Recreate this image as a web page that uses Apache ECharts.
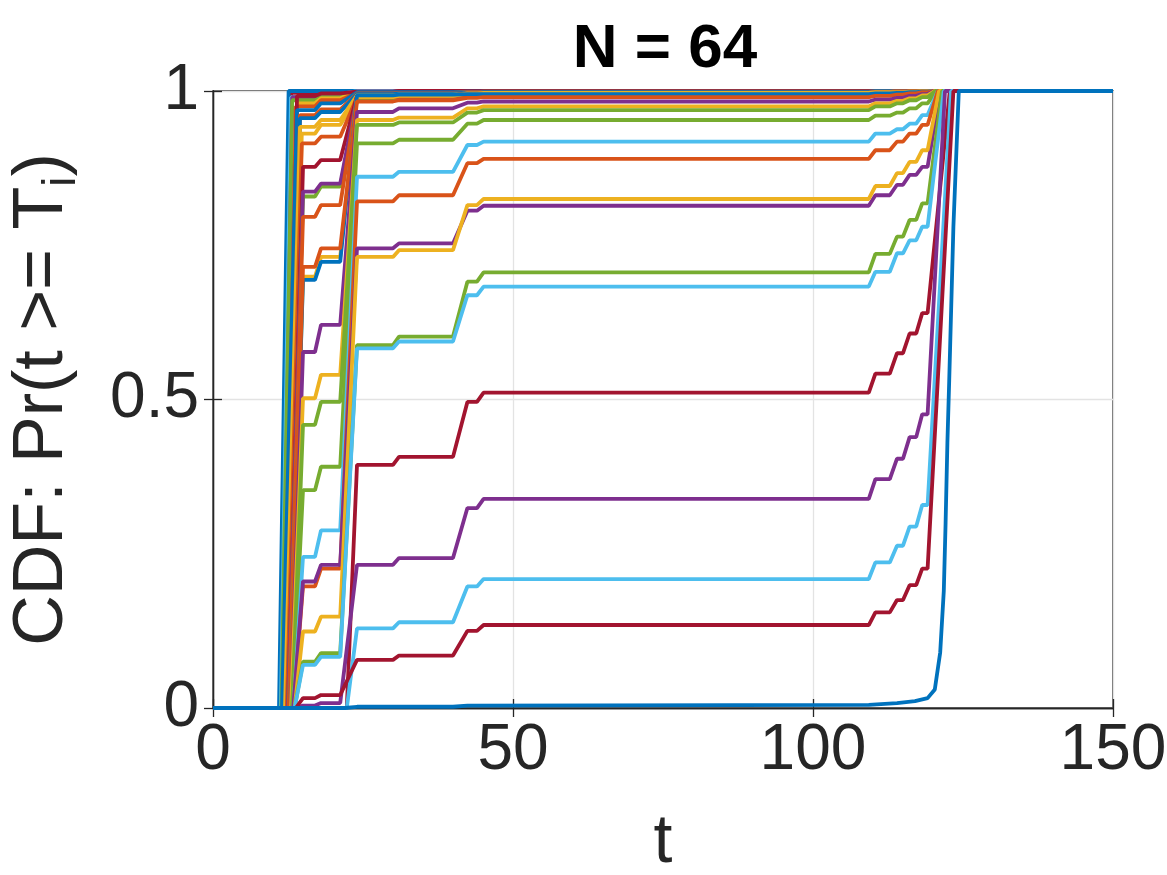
<!DOCTYPE html>
<html>
<head>
<meta charset="utf-8">
<title>N = 64</title>
<script src="https://cdn.jsdelivr.net/npm/echarts@6/dist/echarts.min.js"></script>
<style>
  html, body { margin: 0; padding: 0; background: #fff; }
  #chart { width: 1167px; height: 875px; }
</style>
</head>
<body>
<div id="chart"></div>
<script>
// matlab default colour order
var palette = {B: '#0072BD', O: '#D95319', Y: '#EDB120', P: '#7E2F8E', G: '#77AC30', L: '#4DBEEE', R: '#A2142F'};

var xTicks = [0, 50, 100, 150];
var yTicks = [0, 0.5, 1];

// every curve holds a level between these times (first start is per curve)
var plateauTimes = [[15, 17], [18, 21.2], [24, 30], [31, 40], [42.4, 44], [45.1, 109.3],
                    [110.4, 112.8], [114, 115], [116.1, 117.2], [118.2, 119.1]];

// per curve: colour, t where it leaves 0, t where first level is reached, t where it hits 1
var curveColor = ['R','B','L','P','G','Y','O','R','B','O','B','Y','Y','O','R','G','P','O','Y','B',
                  'O','P','Y','G','G','L','O','P','Y','G','L','R','P','L','R'];
var curveStart = [11.5,11,11.3,11.6,11.4,12,12,12.3,11.5,12,11.8,12,12.2,12.3,12.5,12.5,12.5,12.6,12.8,12.8,
                  12.8,13,13,13.2,13.2,13.4,13.4,13.4,13.6,13.6,13.6,22.3,13.8,22.3,13.8];
var curveRise = [13,12.6,13,13.2,13.2,14,13.8,14,14,14.5,14.5,14.5,14.8,14.8,15,15,15,15,15,15,
                 15,15,15,15,15,15,15,15,15,15,15,24,15,24,15];
var curveEnd = [120,120,120,120,120,120,120,120,120,120,120.2,120,120,120,120,120,120,120,120,120.5,
                120,120.2,120.3,120.4,120.5,120.8,120.8,121.2,121,121.5,121.8,122.8,122,123,123.4];
// levels: a, b, c, d, e, f, then the four late stairs
var curveLevels = [
  [0.997, 1, 1, 1, 1, 1, 1, 1, 1, 1],
  [1, 1, 1, 1, 1, 1, 1, 1, 1, 1],
  [0.99, 0.995, 1, 1, 1, 1, 1, 1, 1, 1],
  [0.99, 0.994, 0.999, 1, 1, 1, 1, 1, 1, 1],
  [0.985, 0.99, 0.998, 0.999, 1, 1, 1, 1, 1, 1],
  [0.98, 0.988, 0.998, 0.999, 1, 1, 1, 1, 1, 1],
  [0.975, 0.985, 0.997, 0.998, 0.999, 1, 1, 1, 1, 1],
  [0.992, 0.996, 0.999, 1, 1, 1, 1, 1, 1, 1],
  [0.969, 0.98, 0.998, 0.998, 0.999, 0.999, 1, 1, 1, 1],
  [0.961, 0.97, 0.996, 0.997, 0.998, 0.999, 0.999, 1, 1, 1],
  [0.956, 0.966, 0.995, 0.996, 0.997, 0.998, 0.998, 0.999, 0.999, 1],
  [0.942, 0.953, 0.993, 0.994, 0.996, 0.997, 0.998, 0.998, 0.999, 1],
  [0.931, 0.945, 0.99, 0.991, 0.994, 0.995, 0.996, 0.997, 0.998, 0.999],
  [0.915, 0.926, 0.99, 0.991, 0.993, 0.994, 0.995, 0.996, 0.997, 0.998],
  [0.877, 0.888, 0.992, 0.993, 0.996, 0.997, 0.998, 0.998, 0.999, 0.999],
  [0.829, 0.845, 0.985, 0.987, 0.99, 0.991, 0.993, 0.995, 0.996, 0.998],
  [0.837, 0.85, 0.99, 0.991, 0.993, 0.994, 0.995, 0.996, 0.997, 0.998],
  [0.796, 0.815, 0.99, 0.991, 0.994, 0.995, 0.996, 0.997, 0.998, 0.999],
  [0.699, 0.731, 0.99, 0.992, 0.996, 0.997, 0.998, 0.998, 0.999, 0.999],
  [0.694, 0.723, 0.993, 0.994, 0.995, 0.995, 0.996, 0.997, 0.998, 0.999],
  [0.715, 0.745, 0.983, 0.985, 0.989, 0.99, 0.992, 0.994, 0.996, 0.998],
  [0.577, 0.621, 0.966, 0.972, 0.981, 0.983, 0.986, 0.989, 0.992, 0.995],
  [0.502, 0.54, 0.953, 0.957, 0.972, 0.975, 0.98, 0.984, 0.988, 0.993],
  [0.459, 0.496, 0.945, 0.949, 0.965, 0.969, 0.975, 0.98, 0.985, 0.99],
  [0.353, 0.391, 0.915, 0.921, 0.947, 0.953, 0.96, 0.965, 0.972, 0.98],
  [0.245, 0.288, 0.861, 0.869, 0.9125, 0.918, 0.931, 0.938, 0.947, 0.961],
  [0.197, 0.226, 0.821, 0.831, 0.883, 0.89, 0.904, 0.918, 0.931, 0.945],
  [0.205, 0.232, 0.745, 0.753, 0.806, 0.814, 0.831, 0.848, 0.864, 0.877],
  [0.124, 0.148, 0.731, 0.742, 0.815, 0.825, 0.846, 0.867, 0.885, 0.904],
  [0.075, 0.089, 0.588, 0.602, 0.691, 0.706, 0.736, 0.764, 0.791, 0.818],
  [0.07, 0.083, 0.583, 0.594, 0.669, 0.683, 0.707, 0.737, 0.758, 0.78],
  [0, 0, 0.394, 0.407, 0.496, 0.511, 0.542, 0.575, 0.607, 0.64],
  [0.004, 0.008, 0.232, 0.243, 0.324, 0.339, 0.371, 0.404, 0.439, 0.476],
  [0, 0, 0.129, 0.139, 0.197, 0.209, 0.236, 0.263, 0.294, 0.329],
  [0.016, 0.021, 0.078, 0.085, 0.125, 0.1345, 0.155, 0.175, 0.199, 0.226]
];

// the last (blue) curve sits near 0 and is read point by point
var lastT = [0, 22, 24, 40, 42.4, 109.3, 114, 117, 119.1, 120.3, 121.2, 121.8, 122.1, 122.4, 122.7, 123.4, 124.3, 150];
var lastV = [0, 0, 0.002, 0.002, 0.004, 0.005, 0.008, 0.011, 0.016, 0.03, 0.09, 0.19, 0.3, 0.43, 0.53, 0.78, 1, 1];

var FONT = 'Liberation Sans, Helvetica, Arial, sans-serif';
var INK = '#262626';

function buildCurve(i) {
  var lv = curveLevels[i];
  var pts = [[0, 0], [curveStart[i], 0]];
  plateauTimes.forEach(function (span, k) {
    if (k < 2 && lv[0] === 0 && lv[1] === 0) return; // late curves skip the early plateaus
    var t0 = k === 0 ? curveRise[i] : span[0];
    pts.push([t0, lv[k]]);
    pts.push([span[1], lv[k]]);
  });
  pts.push([curveEnd[i], 1]);
  pts.push([150, 1]);
  return pts;
}

var series = [];
curveLevels.forEach(function (lv, i) {
  series.push({
    type: 'line',
    data: buildCurve(i),
    showSymbol: false,
    lineStyle: {width: 3.8, color: palette[curveColor[i]]},
    itemStyle: {color: palette[curveColor[i]]}
  });
});
series.push({
  type: 'line',
  data: lastT.map(function (t, k) { return [t, lastV[k]]; }),
  showSymbol: false,
  lineStyle: {width: 3.8, color: palette.B},
  itemStyle: {color: palette.B}
});

var chart = echarts.init(document.getElementById('chart'));
chart.setOption({
  animation: false,
  backgroundColor: '#fff',
  title: {
    text: 'N = 64',
    left: 660,
    top: 14,
    textAlign: 'center',
    textStyle: {fontFamily: FONT, fontSize: 62, fontWeight: 'bold', color: '#000'}
  },
  grid: {left: 213, right: 54, top: 91, bottom: 167, containLabel: false, outerBoundsMode: 'none',
         show: true, borderColor: INK, borderWidth: 1.3},
  xAxis: [{
    type: 'value', min: 0, max: 150, interval: 50, position: 'bottom',
    name: 't', nameLocation: 'middle', nameGap: 101,
    nameTextStyle: {fontFamily: FONT, fontSize: 68, color: INK},
    axisLine: {show: true, lineStyle: {color: INK, width: 1.3}},
    axisTick: {show: true, inside: true, length: 9, lineStyle: {color: INK, width: 1.3}},
    axisLabel: {fontFamily: FONT, fontSize: 64, color: INK, margin: 11,
      formatter: function (v) { return xTicks.indexOf(v) >= 0 ? String(v) : ''; }},
    splitLine: {show: true, lineStyle: {color: '#e3e3e3', width: 1.3}}
  }, {
    type: 'value', min: 0, max: 150, interval: 50, position: 'top',
    axisLine: {show: true, lineStyle: {color: INK, width: 1.3}},
    axisTick: {show: true, inside: true, length: 9, lineStyle: {color: INK, width: 1.3}},
    axisLabel: {show: false}, splitLine: {show: false}
  }],
  yAxis: [{
    type: 'value', min: 0, max: 1, interval: 0.5, position: 'left',
    name: '{a|CDF: Pr(t >= T}{s|i}{a|)}', nameLocation: 'middle', nameGap: 128, nameRotate: 90,
    nameTextStyle: {
      rich: {
        a: {fontFamily: FONT, fontSize: 70, color: INK, lineHeight: 84},
        s: {fontFamily: FONT, fontSize: 46, color: INK, verticalAlign: 'bottom', lineHeight: 84}
      }
    },
    axisLine: {show: true, lineStyle: {color: INK, width: 1.3}},
    axisTick: {show: true, inside: true, length: 9, lineStyle: {color: INK, width: 1.3}},
    axisLabel: {fontFamily: FONT, fontSize: 64, color: INK, margin: 14,
      formatter: function (v) { return yTicks.indexOf(v) >= 0 ? String(v) : ''; }},
    splitLine: {show: true, lineStyle: {color: '#e3e3e3', width: 1.3}}
  }, {
    type: 'value', min: 0, max: 1, interval: 0.5, position: 'right',
    axisLine: {show: true, lineStyle: {color: INK, width: 1.3}},
    axisTick: {show: true, inside: true, length: 9, lineStyle: {color: INK, width: 1.3}},
    axisLabel: {show: false}, splitLine: {show: false}
  }],
  series: series
});
</script>
</body>
</html>
